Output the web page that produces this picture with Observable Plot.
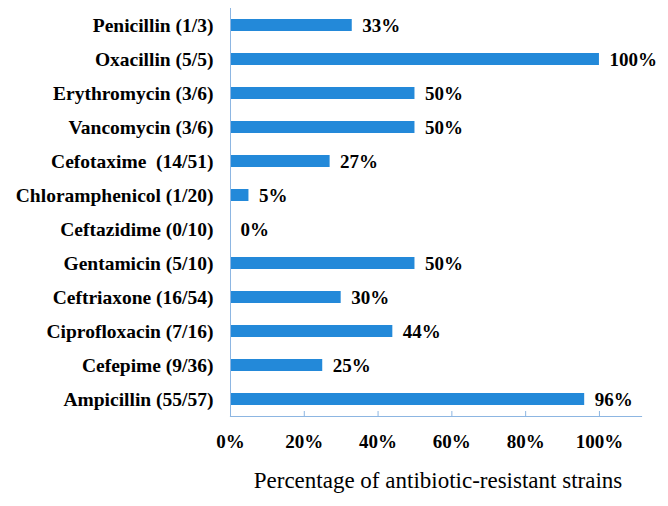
<!DOCTYPE html>
<html>
<head>
<meta charset="utf-8">
<script src="https://cdn.jsdelivr.net/npm/d3@7"></script>
<script src="https://cdn.jsdelivr.net/npm/@observablehq/plot@0.6"></script>
<style>
  body { margin: 0; background: #fff; }
</style>
</head>
<body>
<div id="chart"></div>
<script>
const categories = [
  "Penicillin (1/3)",
  "Oxacillin (5/5)",
  "Erythromycin (3/6)",
  "Vancomycin (3/6)",
  "Cefotaxime  (14/51)",
  "Chloramphenicol (1/20)",
  "Ceftazidime (0/10)",
  "Gentamicin (5/10)",
  "Ceftriaxone (16/54)",
  "Ciprofloxacin (7/16)",
  "Cefepime (9/36)",
  "Ampicillin (55/57)"
];
const values = [0.33, 1.00, 0.50, 0.50, 0.27, 0.05, 0.00, 0.50, 0.30, 0.44, 0.25, 0.96];
const xTicks = [0, 0.2, 0.4, 0.6, 0.8, 1.0];
const axisTitle = "Percentage of antibiotic-resistant strains";

const data = categories.map((c, i) => ({name: c, value: values[i]}));
const pct = d => Math.round(d * 100) + "%";
const font = "Liberation Serif";
const barColor = "#2389D9";
const axisColor = "#8DB6E2";
const bold = {fontFamily: font, fontWeight: "bold", fontSize: 19, fill: "#000"};

const chart = Plot.plot({
  width: 668,
  height: 506,
  marginLeft: 230,
  marginRight: 27,
  marginTop: 8,
  marginBottom: 90,
  style: {fontFamily: font, background: "#fff", color: "#000"},
  x: {domain: [0, 1.114], axis: null},
  y: {domain: categories, paddingInner: 0.65, paddingOuter: 0.26, axis: null},
  marks: [
    Plot.barX(data, {x: "value", y: "name", fill: barColor}),
    Plot.ruleX([0], {stroke: axisColor, strokeWidth: 1}),
    Plot.frame({anchor: "bottom", stroke: axisColor, strokeWidth: 1.2}),
    Plot.ruleX(xTicks, {x: d => d, insetTop: 403, stroke: axisColor, strokeWidth: 1}),
    Plot.text(categories, {y: d => d, frameAnchor: "left", dx: -17, textAnchor: "end", ...bold, fontSize: 19.5}),
    Plot.text(xTicks, {x: d => d, text: pct, frameAnchor: "bottom", lineAnchor: "middle", dy: 25, ...bold}),
    Plot.text(data, {x: "value", y: "name", text: d => pct(d.value), dx: 10, textAnchor: "start", ...bold}),
    Plot.text([axisTitle], {frameAnchor: "bottom", lineAnchor: "middle", dx: 2, dy: 64, fontSize: 23, fontFamily: font, fill: "#000"})
  ]
});
document.getElementById("chart").appendChild(chart);
</script>
</body>
</html>
